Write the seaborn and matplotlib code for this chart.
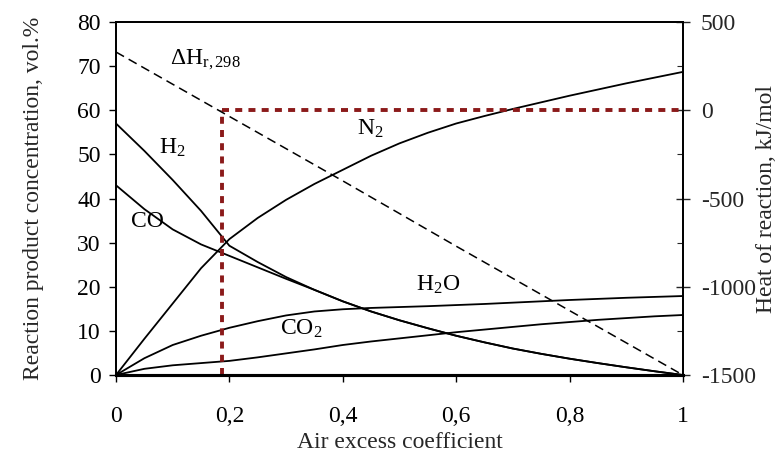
import matplotlib
matplotlib.use("Agg")
import matplotlib.pyplot as plt
import seaborn as sns
import pandas as pd
from matplotlib.ticker import MultipleLocator

# ---- data ----
air_excess = [0, 0.05, 0.1, 0.15, 0.2, 0.25, 0.3, 0.35, 0.4, 0.45, 0.5, 0.55, 0.6, 0.65, 0.7, 0.75, 0.8, 0.85, 0.9, 0.95, 1.0]
h2 = [57, 50.8, 44.2, 37.2, 29.3, 25.6, 22.2, 19.3, 16.7, 14.4, 12.4, 10.6, 8.9, 7.4, 6.0, 4.8, 3.7, 2.7, 1.75, 0.85, 0]
co = [43, 37.6, 33.0, 29.6, 27.0, 24.4, 21.8, 19.3, 16.7, 14.4, 12.4, 10.6, 8.9, 7.4, 6.0, 4.8, 3.7, 2.7, 1.75, 0.85, 0]
n2 = [0, 8.2, 16.2, 24.2, 30.8, 35.6, 39.7, 43.3, 46.5, 49.7, 52.5, 54.9, 57.0, 58.7, 60.3, 61.8, 63.3, 64.7, 66.1, 67.4, 68.7]
h2o = [0, 3.8, 6.8, 8.9, 10.7, 12.2, 13.5, 14.4, 14.9, 15.2, 15.4, 15.6, 15.85, 16.1, 16.4, 16.7, 17.0, 17.25, 17.5, 17.7, 17.9]
co2 = [0, 1.4, 2.2, 2.7, 3.2, 4.0, 4.9, 5.8, 6.8, 7.6, 8.3, 9.0, 9.7, 10.3, 10.9, 11.5, 12.0, 12.5, 12.9, 13.3, 13.6]
heat_x = [0, 0.2, 0.4, 0.6, 0.8, 1.0]
heat = [330, -35, -400, -770, -1135, -1500]
zero_heat_alpha = 0.187
zero_heat = 0

x_ticks = [0, 0.2, 0.4, 0.6, 0.8, 1]
x_tick_labels = ["0", "0,2", "0,4", "0,6", "0,8", "1"]

# ---- style ----
sns.set_style("ticks")
plt.rcParams["font.family"] = ["Liberation Serif", "DejaVu Serif"]
plt.rcParams["mathtext.fontset"] = "stix"
plt.rcParams["axes.unicode_minus"] = False

fig = plt.figure(figsize=(7.76, 4.59), dpi=100)
ax = fig.add_axes([0.1495, 0.183, 0.7305, 0.769])
ax2 = ax.twinx()

df = pd.DataFrame({"x": air_excess, "H2": h2, "CO": co, "N2": n2, "H2O": h2o, "CO2": co2})
for col in ["H2", "CO", "N2", "H2O", "CO2"]:
    sns.lineplot(data=df, x="x", y=col, ax=ax, color="black", linewidth=1.3)

hdf = pd.DataFrame({"x": heat_x, "heat": heat})
sns.lineplot(data=hdf, x="x", y="heat", ax=ax2, color="black", linewidth=1.1,
             linestyle=(0, (6, 3.5)))

red = "#8b1a1a"
ax2.plot([zero_heat_alpha, zero_heat_alpha], [-1500, zero_heat], color=red,
         linewidth=2.8, linestyle=(0, (1.8, 1.6)), zorder=1)
ax2.plot([zero_heat_alpha, 1.0], [zero_heat, zero_heat], color=red,
         linewidth=2.8, linestyle=(0, (1.8, 1.6)), zorder=1)

ax.set_xlim(0, 1)
ax.set_ylim(0, 80)
ax2.set_ylim(-1500, 500)
ax.set_xticks(x_ticks)
ax.set_xticklabels(x_tick_labels)
ax.yaxis.set_major_locator(MultipleLocator(10))
ax2.yaxis.set_major_locator(MultipleLocator(500))
ax2.yaxis.set_minor_locator(MultipleLocator(250))

ax.tick_params(axis="both", labelsize=17, direction="out", length=5, width=1.0, colors="black")
ax.tick_params(axis="y", pad=6)
ax.tick_params(axis="x", pad=17)
ax2.tick_params(axis="y", which="major", labelsize=17, direction="inout", length=10, width=1.0, pad=8)
ax2.tick_params(axis="y", which="minor", direction="in", length=4, width=0.8)

ax.set_xlabel("Air excess coefficient", fontsize=17, labelpad=4)
ax.set_ylabel("Reaction product concentration, vol.%", fontsize=17, labelpad=24)
ax2.set_ylabel("Heat of reaction, kJ/mol", fontsize=17, rotation=90, labelpad=0)

for a in (ax, ax2):
    for s in a.spines.values():
        s.set_color("black")
        s.set_linewidth(1.3)
    a.spines["bottom"].set_linewidth(2.2)

lab = dict(fontsize=17, ha="center", va="center", color="black")
ax.text(0.157, 71.4, r"ΔH$_{\mathregular{r,298}}$", **lab)
ax.text(0.099, 51.5, r"H$_{\mathregular{2}}$", **lab)
ax.text(0.055, 34.7, "CO", **lab)
ax.text(0.448, 55.8, r"N$_{\mathregular{2}}$", **lab)
ax.text(0.326, 10.4, r"CO$_{\mathregular{2}}$", **lab)
ax.text(0.568, 20.4, r"H$_{\mathregular{2}}$O", **lab)

fig.savefig("out.png", dpi=100)
